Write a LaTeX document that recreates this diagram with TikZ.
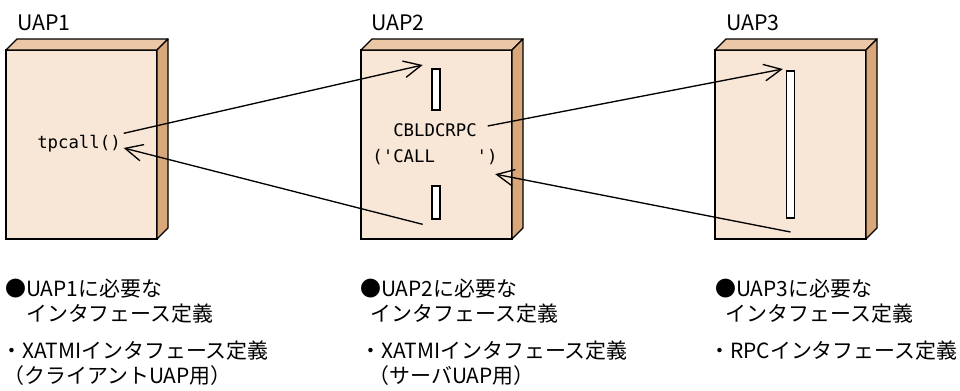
\documentclass[tikz,border=0pt]{standalone}
\usepackage{fontspec}
\setmainfont{Noto Sans CJK JP}
\newfontfamily\codefont{DejaVu Sans Mono}
\usepackage{tikz}
\usetikzlibrary{arrows.meta, positioning}
\definecolor{facefront}{HTML}{F8E6D6}
\definecolor{facetop}{HTML}{EBC7A6}
\definecolor{faceside}{HTML}{D9A87A}
\tikzset{
  uapbox/.style={draw, line width=1pt, fill=facefront, outer sep=0pt,
                 minimum width=113.25pt, minimum height=141.75pt},
  stack/.style={draw, line width=0.8pt, fill=white, inner sep=0pt,
                outer sep=0pt, minimum width=6pt},
  title/.style={anchor=base west, inner sep=0pt, font=\fontsize{16}{18}\selectfont},
  code/.style={font=\codefont\fontsize{13}{20}\selectfont, inner sep=2pt},
  note/.style={anchor=north west, inner sep=0pt, align=left,
               font=\fontsize{15.7}{18.75}\selectfont},
  call/.style={-{Straight Barb[length=13pt,width=12.5pt]}, line width=1pt}
}

\begin{document}
\begin{tikzpicture}[x=0.75pt, y=-0.75pt]
  \useasboundingbox (0,0) rectangle (960,390);

  % UAP boxes
  \node[uapbox] (uap1) at (81.5,144.5) {};
  \node[uapbox] (uap2) at (436.5,144.5) {};
  \node[uapbox] (uap3) at (790.5,144.5) {};
  \foreach \b in {uap1,uap2,uap3} {
    \draw[line width=1pt, fill=facetop, line join=round] (\b.north west)
      -- ([shift={(11,-11)}]\b.north west) -- ([shift={(11,-11)}]\b.north east)
      -- (\b.north east) -- cycle;
    \draw[line width=1pt, fill=faceside, line join=round] (\b.north east)
      -- ([shift={(11,-11)}]\b.north east) -- ([shift={(11,-11)}]\b.south east)
      -- (\b.south east) -- cycle;
  }

  % titles
  \node[title] (t1) at (17,30) {UAP1};
  \node[title] (t2) at (371,30) {UAP2};
  \node[title] (t3) at (726,30) {UAP3};

  % UAP1
  \node[code] (tpcall) at (79,144) {tpcall()};

  % UAP2
  \node[stack, minimum height=30.75pt] (bar2a) at (436,89.5) {};
  \node[stack, minimum height=24.75pt] (bar2b) at (436,202.5) {};
  \node[code] (rpc) at (435,130) {CBLDCRPC};
  \node[code, below=5pt of rpc] (rpcarg) {('CALL\phantom{xxxx}')};

  % UAP3
  \node[stack, minimum height=110.25pt, minimum width=5.5pt] (bar3) at (790.5,144.5) {};

  % Arrows
  \draw[call] ([yshift=8pt]tpcall.east) -- ([shift={(-7pt,3pt)}]bar2a.north west);
  \draw[call] ([shift={(-7pt,-4pt)}]bar2b.south west) -- ([yshift=-3pt]tpcall.east);
  \draw[call] ([shift={(6pt,3pt)}]rpc.east) -- ([shift={(-3pt,1.5pt)}]bar3.north west);
  \draw[call] ([yshift=-10.5pt]bar3.south) -- ([shift={(-4pt,-5pt)}]rpcarg.south east);

  % interface definitions
  \node[note] (need1) at (5,279) {●UAP1に必要な\\\hspace*{1em}インタフェース定義};
  \node[note] (def1) at (1,341) {・XATMIインタフェース定義\\\hspace*{0.1em}（クライアントUAP用）};
  \node[note] (need2) at (360,279) {●UAP2に必要な\\\hspace*{0.5em}インタフェース定義};
  \node[note] (def2) at (360,341) {・XATMIインタフェース定義\\\hspace*{0.4em}（サーバUAP用）};
  \node[note] (need3) at (715,279) {●UAP3に必要な\\\hspace*{0.5em}インタフェース定義};
  \node[note] (def3) at (709,341) {・RPCインタフェース定義};
\end{tikzpicture}
\end{document}
